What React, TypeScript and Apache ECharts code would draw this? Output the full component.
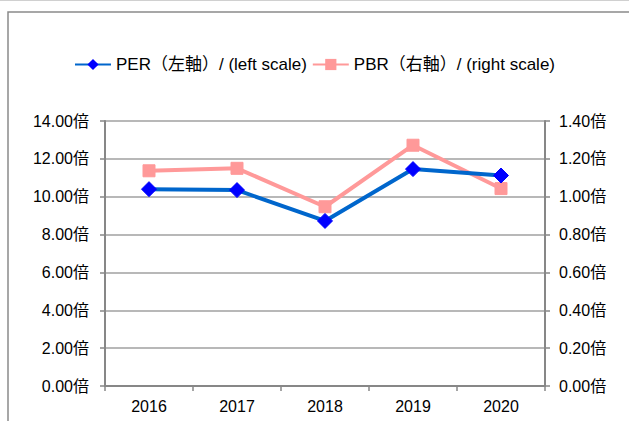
import React, { useEffect, useRef } from "react";
import * as echarts from "echarts";

const categories = ["2016", "2017", "2018", "2019", "2020"];
const perValues = [10.4, 10.35, 8.72, 11.46, 11.12];
const pbrValues = [1.137, 1.15, 0.947, 1.272, 1.043];
const perName = "PER（左軸）/ (left scale)";
const pbrName = "PBR（右軸）/ (right scale)";

const FONT = "'Liberation Sans', Arial, 'Noto Sans CJK JP', sans-serif";
const FS = 16;

export default function App() {
  const ref = useRef<HTMLDivElement>(null);
  useEffect(() => {
    if (!ref.current) return;
    const chart = echarts.init(ref.current, undefined, { renderer: "svg" });
    const axisLine = { show: true, lineStyle: { color: "#878787", width: 2 } };
    chart.setOption({
      animation: false,
      backgroundColor: "#ffffff",
      textStyle: { fontFamily: FONT },
      graphic: [
        { type: "line", shape: { x1: 0, y1: 0.5, x2: 629, y2: 0.5 }, style: { stroke: "#d0d0d0", lineWidth: 1 } },
        { type: "rect", shape: { x: 8, y: 12, width: 700, height: 500 }, style: { fill: "none", stroke: "#8a8a8a", lineWidth: 1.5 } },
      ],
      legend: {
        top: 51,
        left: "center",
        itemWidth: 36,
        itemHeight: 14,
        itemGap: 5,
        textStyle: { fontSize: 17, color: "#000", fontFamily: FONT },
        data: [perName, pbrName],
      },
      grid: { left: 105, right: 84, top: 121, bottom: 35, containLabel: false },
      xAxis: {
        type: "category",
        data: categories,
        boundaryGap: true,
        axisLine,
        axisTick: { show: true, length: 5, inside: false, lineStyle: { color: "#878787", width: 1.5 } },
        axisLabel: { fontSize: FS, color: "#000", margin: 12, fontFamily: FONT },
      },
      yAxis: [
        {
          type: "value",
          min: 0,
          max: 14,
          interval: 2,
          position: "left",
          axisLine,
          axisTick: { show: true, length: 5, lineStyle: { color: "#878787", width: 1.5 } },
          splitLine: { show: true, lineStyle: { color: "#a0a0a0", width: 1.5 } },
          axisLabel: { fontSize: FS, color: "#000", margin: 16, fontFamily: FONT, formatter: (v: number) => v.toFixed(2) + "倍" },
        },
        {
          type: "value",
          min: 0,
          max: 1.4,
          interval: 0.2,
          position: "right",
          axisLine,
          axisTick: { show: true, length: 5, lineStyle: { color: "#878787", width: 1.5 } },
          splitLine: { show: false },
          axisLabel: { fontSize: FS, color: "#000", margin: 14, fontFamily: FONT, formatter: (v: number) => v.toFixed(2) + "倍" },
        },
      ],
      series: [
        {
          name: perName,
          type: "line",
          yAxisIndex: 0,
          data: perValues,
          symbol: "diamond",
          symbolSize: 15,
          lineStyle: { color: "#0066CC", width: 4 },
          itemStyle: { color: "#0000FF", borderColor: "#0000FF" },
          z: 3,
        },
        {
          name: pbrName,
          type: "line",
          yAxisIndex: 1,
          data: pbrValues,
          symbol: "rect",
          symbolSize: 12,
          lineStyle: { color: "#FF9999", width: 4 },
          itemStyle: { color: "#FF9999", borderColor: "#FF9999" },
          z: 2,
        },
      ],
    });
    return () => chart.dispose();
  }, []);
  return <div ref={ref} style={{ position: "fixed", left: 0, top: 0, width: 629, height: 421 }} />;
}
